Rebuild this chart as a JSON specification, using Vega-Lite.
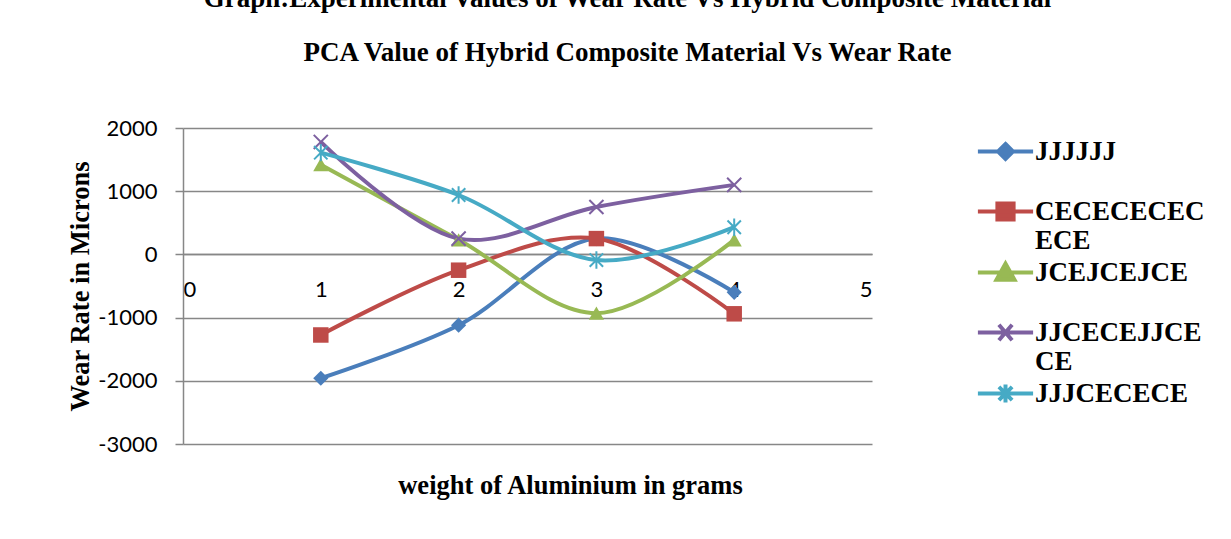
{
  "$schema": "https://vega.github.io/schema/vega-lite/v6.json",
  "autosize": "none",
  "width": 689,
  "height": 316,
  "padding": {"left": 183, "top": 128, "right": 359, "bottom": 95},
  "background": "white",
  "config": {
    "view": {"stroke": null},
    "style": {"guide-label": {"lineHeight": 29}}
  },
  "title": {
    "text": "Graph:Experimental Values of Wear Rate Vs Hybrid Composite Material",
    "subtitle": "PCA Value of Hybrid Composite Material Vs Wear Rate",
    "font": "Liberation Serif",
    "fontWeight": "bold",
    "fontSize": 27,
    "color": "black",
    "subtitleFont": "Liberation Serif",
    "subtitleFontWeight": "bold",
    "subtitleFontSize": 27,
    "subtitleColor": "black",
    "subtitlePadding": 27,
    "anchor": "middle",
    "frame": "group",
    "dx": 100,
    "offset": 50
  },
  "data": {
    "values": [
      {"x": 1, "y": -1960, "s": "JJJJJJ"},
      {"x": 2, "y": -1120, "s": "JJJJJJ"},
      {"x": 3, "y": 250, "s": "JJJJJJ"},
      {"x": 4, "y": -600, "s": "JJJJJJ"},
      {"x": 1, "y": -1275, "s": "CECECECECECE"},
      {"x": 2, "y": -250, "s": "CECECECECECE"},
      {"x": 3, "y": 250, "s": "CECECECECECE"},
      {"x": 4, "y": -940, "s": "CECECECECECE"},
      {"x": 1, "y": 1420, "s": "JCEJCEJCE"},
      {"x": 2, "y": 230, "s": "JCEJCEJCE"},
      {"x": 3, "y": -930, "s": "JCEJCEJCE"},
      {"x": 4, "y": 230, "s": "JCEJCEJCE"},
      {"x": 1, "y": 1780, "s": "JJCECEJJCECE"},
      {"x": 2, "y": 250, "s": "JJCECEJJCECE"},
      {"x": 3, "y": 750, "s": "JJCECEJJCECE"},
      {"x": 4, "y": 1100, "s": "JJCECEJJCECE"},
      {"x": 1, "y": 1610, "s": "JJJCECECE"},
      {"x": 2, "y": 940, "s": "JJJCECECE"},
      {"x": 3, "y": -90, "s": "JJJCECECE"},
      {"x": 4, "y": 430, "s": "JJJCECECE"}
    ]
  },
  "encoding": {
    "x": {
      "field": "x", "type": "quantitative",
      "scale": {"domain": [0, 5], "nice": false, "zero": false},
      "axis": {
        "title": "weight of Aluminium in grams",
        "titleFont": "Liberation Serif", "titleFontWeight": "bold", "titleFontSize": 26.5, "titleColor": "black",
        "titleX": 387, "titleY": 231, "titleBaseline": "middle", "titleAnchor": null,
        "offset": -190,
        "values": [0, 1, 2, 3, 4, 5],
        "labelExpr": "'' + datum.value",
        "grid": false, "ticks": false,
        "domain": true, "domainColor": "#878787", "domainWidth": 1.5,
        "labelFont": "Lato", "labelFontSize": 22, "labelColor": "black",
        "labelPadding": 35, "labelBaseline": "middle"
      }
    },
    "y": {
      "field": "y", "type": "quantitative",
      "scale": {"domain": [-3000, 2000], "nice": false, "zero": false},
      "axis": {
        "title": "Wear Rate in Microns",
        "titleFont": "Liberation Serif", "titleFontWeight": "bold", "titleFontSize": 26.5, "titleColor": "black",
        "titleX": -103, "titleBaseline": "middle",
        "values": [-3000, -2000, -1000, 0, 1000, 2000],
        "labelExpr": "'' + datum.value",
        "grid": true, "gridColor": "#878787", "gridWidth": 1.5,
        "domain": true, "domainColor": "#878787", "domainWidth": 1.5,
        "ticks": true, "tickSize": 8, "tickColor": "#878787", "tickWidth": 1.5,
        "labelFont": "Lato", "labelFontSize": 22, "labelColor": "black",
        "labelPadding": 18
      }
    },
    "color": {
      "field": "s", "type": "nominal",
      "scale": {
        "domain": ["JJJJJJ", "CECECECECECE", "JCEJCEJCE", "JJCECEJJCECE", "JJJCECECE"],
        "range": ["#4A7EBB", "#BE4B48", "#98B954", "#7D60A0", "#46AAC5"]
      },
      "legend": {
        "title": null,
        "orient": "none",
        "legendX": 809,
        "legendY": 10,
        "padding": 0,
        "symbolSize": 144,
        "symbolStrokeWidth": 4,
        "labelOffset": 16,
        "labelFont": "Liberation Serif", "labelFontWeight": "bold", "labelFontSize": 27, "labelColor": "black",
        "labelLimit": 300,
        "rowPadding": 1,
        "labelExpr": "datum.value === 'CECECECECECE' ? ['CECECECEC', 'ECE'] : datum.value === 'JJCECEJJCECE' ? ['JJCECEJJCE', 'CE'] : [datum.label, ' ']",
        "encoding": {
          "labels": {
            "update": {
              "lineHeight": {"value": 29},
              "dy": {"value": 14.5}
            }
          }
        }
      }
    }
  },
  "layer": [
    {
      "mark": {"type": "line", "interpolate": "catmull-rom", "strokeWidth": 4}
    },
    {
      "transform": [{"filter": "false"}],
      "mark": {"type": "point", "filled": true, "opacity": 1, "strokeWidth": 4},
      "encoding": {
        "shape": {
          "field": "s", "type": "nominal",
          "scale": {
            "domain": ["JJJJJJ", "CECECECECECE", "JCEJCEJCE", "JJCECEJJCECE", "JJJCECECE"],
            "range": [
              "M-4.6,0L4.6,0M0,-1.25L1.25,0L0,1.25L-1.25,0Z",
              "M-4.6,0L4.6,0M-1.35,-1.35L1.35,-1.35L1.35,1.35L-1.35,1.35Z",
              "M-4.6,0L4.6,0M-1.5,1.2L0,-1.5L1.5,1.2Z",
              "M-4.6,0L4.6,0M-1.1,-1.3L1.1,1.3M-1.1,1.3L1.1,-1.3",
              "M-4.6,0L4.6,0M-1.1,-1.1L1.1,1.1M-1.1,1.1L1.1,-1.1M0,-1.5L0,1.5"
            ]
          },
          "legend": {"title": null}
        },
        "stroke": {
          "field": "s", "type": "nominal",
          "scale": {
            "domain": ["JJJJJJ", "CECECECECECE", "JCEJCEJCE", "JJCECEJJCECE", "JJJCECECE"],
            "range": ["#4A7EBB", "#BE4B48", "#98B954", "#7D60A0", "#46AAC5"]
          },
          "legend": {"title": null}
        }
      }
    },
    {
      "transform": [{"filter": "datum.s === 'JJJJJJ'"}],
      "mark": {"type": "point", "filled": true, "opacity": 1, "size": 230, "shape": "diamond"}
    },
    {
      "transform": [{"filter": "datum.s === 'CECECECECECE'"}],
      "mark": {"type": "point", "filled": true, "opacity": 1, "size": 240, "shape": "square"}
    },
    {
      "transform": [{"filter": "datum.s === 'JCEJCEJCE'"}],
      "mark": {"type": "point", "filled": true, "opacity": 1, "size": 230, "shape": "triangle-up"}
    },
    {
      "transform": [{"filter": "datum.s === 'JJCECEJJCECE'"}],
      "mark": {"type": "point", "filled": false, "opacity": 1, "size": 200, "strokeWidth": 2, "shape": "M-1,-1L1,1M-1,1L1,-1"}
    },
    {
      "transform": [{"filter": "datum.s === 'JJJCECECE'"}],
      "mark": {"type": "point", "filled": false, "opacity": 1, "size": 180, "strokeWidth": 2, "shape": "M-1,-1L1,1M-1,1L1,-1M0,-1.3L0,1.3"}
    }
  ]
}
